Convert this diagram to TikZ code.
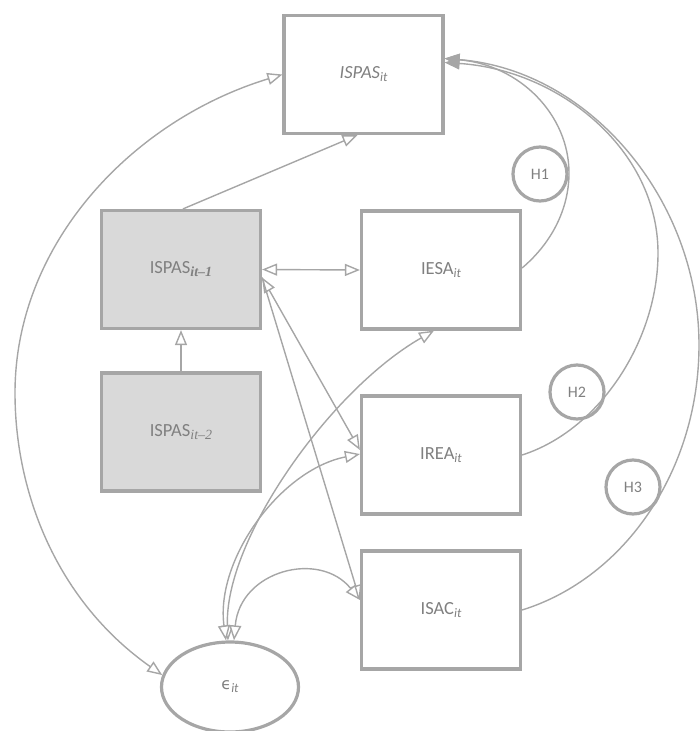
\documentclass[tikz,border=0pt]{standalone}
\usepackage{fontspec}
\setmainfont{Carlito}
\newfontfamily\subserif{Liberation Serif}
\newfontfamily\greekfont{DejaVu Sans}
\usetikzlibrary{arrows.meta,shapes.geometric}
\definecolor{edge}{HTML}{A6A6A6}
\definecolor{ink}{HTML}{808080}
\definecolor{shade}{HTML}{D9D9D9}
% lowered subscript used in the variable names
\newcommand\lowsub[2][13]{\raisebox{-0.35ex}{\fontsize{#1}{#1}\selectfont #2}}
\tikzset{
  opentip/.tip={Triangle[fill=white, length=15pt, width=12pt]},
  solidtip/.tip={Triangle[length=15pt, width=12pt]},
}
\begin{document}
\begin{tikzpicture}[x=1pt,y=-1pt,
  box/.style={rectangle, draw=edge, line width=3.2pt, minimum width=159pt,
    minimum height=118pt, inner sep=0pt, text=ink, font=\fontsize{18.5}{22}\selectfont},
  lagbox/.style={box, fill=shade},
  latent/.style={ellipse, draw=edge, line width=3.2pt, minimum width=137pt,
    minimum height=90pt, inner sep=0pt, text=ink, font=\fontsize{18.5}{22}\selectfont},
  hyp/.style={circle, draw=edge, line width=3.2pt, minimum size=54pt,
    inner sep=0pt, text=ink, font=\fontsize{16}{19}\selectfont},
  link/.style={draw=edge, line width=1.4pt},
]
\useasboundingbox (0,0) rectangle (700,731);

% variables
\node[box]    (top)  at (363.5,74.5) {\textit{ISPAS}\lowsub{\itshape it}};
\node[lagbox] (lag1) at (181,269.5)  {ISPAS\lowsub[14]{\subserif\bfseries\itshape it\textendash1}};
\node[lagbox] (lag2) at (181,432)    {ISPAS\lowsub[14]{\subserif\itshape it\textendash2}};
\node[box]    (iesa) at (441,270)    {IESA\lowsub{\itshape it}};
\node[box]    (irea) at (441,455)    {IREA\lowsub{\itshape it}};
\node[box]    (isac) at (441,610)    {ISAC\lowsub{\itshape it}};
\node[latent] (eps)  at (230,687)    {{\greekfont\fontsize{16}{19}\selectfont ϵ}\lowsub{\itshape it}};

% hypothesis markers
\node[hyp] (h1) at (540,174) {H1};
\node[hyp] (h2) at (577,392) {H2};
\node[hyp] (h3) at (633,487) {H3};

% lagged structure
\draw[link, -{opentip}] ([xshift=2pt]lag1.north) -- ([xshift=-6pt]top.south);
\draw[link, -{opentip}] (lag2.north) -- (lag1.south);
\draw[link, {opentip}-{opentip}] (lag1.east) -- (iesa.west);
\draw[link, {opentip}-{opentip}] ([yshift=-8pt]lag1.east) -- ([yshift=5pt]irea.west);
\draw[link, -{opentip}] ([yshift=-8pt]lag1.east) -- ([yshift=10pt]isac.west);

% error term covariances
\draw[link, {opentip}-{opentip}] (top.west)
  .. controls (133,120) and (15,243) .. (15,393)
  .. controls (15,493) and (57,601) .. (eps.170);
\draw[link, {opentip}-{opentip}] ([xshift=-2pt]eps.north)
  .. controls (224,540) and (330,390) .. ([xshift=-7pt]iesa.south);
\draw[link, {opentip}-{opentip}] ([xshift=-4pt]eps.north)
  .. controls (215,560) and (280,470) .. ([yshift=1pt]irea.west);
\draw[link, {opentip}-{opentip}] ([xshift=4pt]eps.north)
  .. controls (240,570) and (320,550) .. ([yshift=10pt]isac.west);

% hypothesised paths H1--H3
\draw[link, -{solidtip}] ([yshift=2pt]iesa.east)
  .. controls (555,240) and (569,205) .. (569,173)
  .. controls (569,115) and (520,65) .. ([yshift=16pt]top.east);
\draw[link, -{solidtip}] (irea.east)
  .. controls (600,430) and (658,340) .. (658,253)
  .. controls (658,150) and (560,70) .. ([yshift=12pt]top.east);
\draw[link, -{solidtip}] (isac.east)
  .. controls (625,578) and (699,470) .. (699,345)
  .. controls (699,200) and (590,70) .. ([yshift=16pt]top.east);
\end{tikzpicture}
\end{document}
